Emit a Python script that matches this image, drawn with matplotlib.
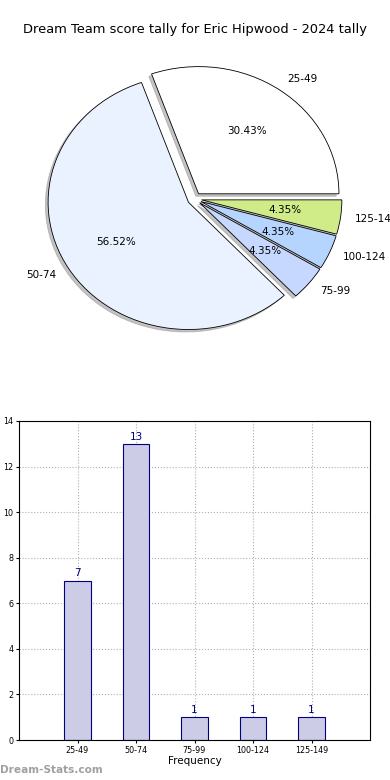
import matplotlib
matplotlib.use("Agg")
import matplotlib.pyplot as plt
import numpy as np

categories = ["25-49", "50-74", "75-99", "100-124", "125-149"]
counts = [7, 13, 1, 1, 1]
pie_colors = ["#ffffff", "#eaf1ff", "#c6d8ff", "#b5d5ff", "#cfec88"]
title = "Dream Team score tally for Eric Hipwood - 2024 tally"

fig = plt.figure(figsize=(3.9, 7.8), dpi=100)

# Pie
ax1 = fig.add_axes([19/390, 1-358/780, 351/390, 318/780])
wedges, texts, autotexts = ax1.pie(
    counts, labels=categories, colors=pie_colors, explode=[0.05]*5,
    autopct="%1.2f%%", shadow={"ox": -0.014, "oy": -0.014, "color": "#888888"},
    startangle=0, counterclock=True,
    labeldistance=1.1, pctdistance=0.6,
    wedgeprops=dict(edgecolor="black", linewidth=0.6),
    textprops=dict(fontsize=7.5))
ax1.set_aspect("auto")
ax1.set_xlim(-1.25, 1.25)
ax1.set_ylim(-1.25, 1.25)
ax1.axis("off")
fig.text(0.5, 1-30/780, title, ha="center", va="center", fontsize=9.4)

# Bars
ax2 = fig.add_axes([19/390, 1-740/780, 351/390, 319/780])
x = np.arange(len(categories))
ax2.bar(x, counts, width=0.45, color="#ccccE6", edgecolor="#000080", linewidth=0.8, zorder=2)
for xi, c in zip(x, counts):
    ax2.text(xi, c + 0.1, str(c), ha="center", va="bottom", color="#000080", fontsize=7.5)
ax2.set_xlim(-1, 5)
ax2.set_ylim(0, 14)
ax2.set_xticks(x)
ax2.set_xticklabels(categories, fontsize=5.8)
ax2.set_yticks(np.arange(0, 15, 2))
ax2.tick_params(axis="both", labelsize=5.8, length=2, pad=2)
ax2.grid(True, linestyle=":", color="#b0b0b0", linewidth=0.8, zorder=0)
ax2.set_axisbelow(True)
ax2.set_xlabel("Frequency", fontsize=7.5, labelpad=1)
ax2.set_ylabel("Scores in Tally", fontsize=7.5)
ax2.yaxis.set_label_coords(-0.07, 0.5)
fig.text(0.0, 1-770/780, "Dream-Stats.com", ha="left", va="center", fontsize=7.6,
         color="#a0a0a0", fontweight="bold")

fig.savefig("out.png", dpi=100)
